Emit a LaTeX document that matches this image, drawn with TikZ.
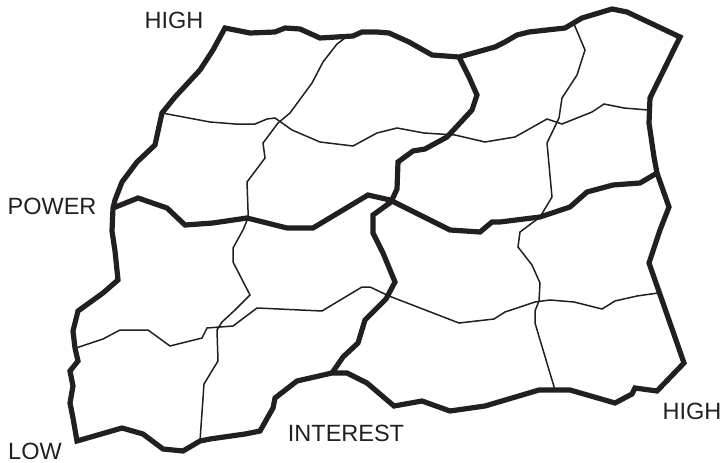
\documentclass[tikz,border=0pt]{standalone}
\usepackage{fontspec}
\setmainfont{Liberation Sans}
\definecolor{ink}{RGB}{35,31,32}
\begin{document}
\begin{tikzpicture}[x=1pt,y=-1pt,
  thickline/.style={draw=ink,line width=5.2pt},
  thinline/.style={draw=ink,line width=1.5pt},
  lbl/.style={text=ink,font=\fontsize{23.5}{26}\selectfont,inner sep=0pt}]
\useasboundingbox (0,0) rectangle (724,463);
% junction coordinates
\coordinate (PL) at (113,208);
\coordinate (PR) at (657,173);
\coordinate (TM) at (459,57);
\coordinate (BM) at (332,373);
% thin lines
\draw[thinline] (162,113) -- (210,122) -- (235,124) -- (255,124) -- (267,119) -- (275,118) -- (292,130) -- (320,142) -- (353,146) -- (377,133) -- (397,128) -- (424,133) -- (455,135) -- (485,142) -- (515,137) -- (547,119) -- (562,124) -- (592,112) -- (604,104) -- (624,108) -- (648,110);
\draw[thinline] (345,38) -- (337,44) -- (323,62) -- (312,83) -- (290,113) -- (278,123) -- (263,143) -- (265,158) -- (247,182) -- (248,210) -- (248,218) -- (243,230) -- (233,248) -- (233,262) -- (250,295) -- (235,310) -- (222,322) -- (217,330) -- (218,361) -- (204,384) -- (200,441);
\draw[thinline] (76,348) -- (103,339) -- (120,330) -- (148,330) -- (170,346) -- (202,338) -- (207,328) -- (233,326) -- (257,308) -- (322,311) -- (362,287) -- (370,287) -- (389,296) -- (459,323) -- (494,319) -- (505,312) -- (535,302) -- (550,300) -- (574,302) -- (602,309) -- (615,301) -- (637,296) -- (658,293);
\draw[thinline] (574,24) -- (585,50) -- (577,75) -- (562,98) -- (559,118) -- (547,143) -- (552,197) -- (540,217) -- (520,232) -- (518,247) -- (532,265) -- (540,283) -- (539,301) -- (535,311) -- (535,323) -- (555,390);
% thick outer boundary
\draw[thickline] (PL) -- (115,200) -- (122,182) -- (137,162) -- (155,145) -- (162,113) -- (175,97) -- (200,70) -- (213,50) -- (225,28) -- (250,33) -- (275,32) -- (285,28) -- (300,29) -- (320,38) -- (353,36) -- (362,32) -- (377,32) -- (389,33) -- (409,42) -- (432,55) -- (TM) -- (495,47) -- (505,42) -- (517,35) -- (529,32) -- (565,28) -- (582,18) -- (612,9) -- (627,12) -- (680,37) -- (650,98) -- (649,123) -- (654,157) -- (PR) -- (669,207) -- (660,230) -- (649,263) -- (684,363) -- (657,391) -- (635,388) -- (632,394) -- (615,403) -- (570,390) -- (539,390) -- (485,406) -- (450,411) -- (422,401) -- (394,406) -- (367,383) -- (347,373) -- (BM) -- (297,381) -- (275,398) -- (273,408) -- (260,431) -- (245,434) -- (210,439) -- (200,441) -- (183,451) -- (163,449) -- (143,434) -- (122,428) -- (77,441) -- (73,418) -- (70,403) -- (73,386) -- (70,371) -- (78,361) -- (75,348) -- (73,331) -- (78,311) -- (103,293) -- (118,280) -- (115,251) -- (112,231) -- cycle;
% thick power divide
\draw[thickline] (PL) -- (138,198) -- (167,208) -- (185,225) -- (213,223) -- (247,218) -- (287,228) -- (313,228) -- (368,195) -- (390,200) -- (450,230) -- (480,232) -- (492,222) -- (500,222) -- (540,217) -- (570,207) -- (587,192) -- (613,185) -- (640,183) -- (PR);
% thick interest divide
\draw[thickline] (TM) -- (469,77) -- (477,95) -- (472,110) -- (460,123) -- (447,137) -- (425,149) -- (413,151) -- (398,162) -- (397,189) -- (391,202) -- (373,215) -- (373,233) -- (383,253) -- (395,282) -- (386,299) -- (365,320) -- (358,343) -- (343,357) -- (BM);
% labels
\node[lbl] (hightop) at (174,20) {HIGH};
\node[lbl] (power) at (52,206) {POWER};
\node[lbl] (low) at (35,451) {LOW};
\node[lbl] (interest) at (346,433) {INTEREST};
\node[lbl] (highright) at (692,411) {HIGH};
\end{tikzpicture}
\end{document}
